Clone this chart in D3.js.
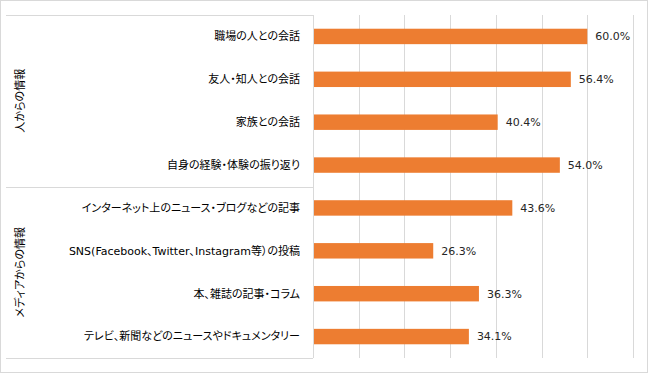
<!DOCTYPE html>
<html>
<head>
<meta charset="utf-8">
<script src="https://cdn.jsdelivr.net/npm/d3@7"></script>
<style>
  body { margin: 0; background: #fff; }
  svg { display: block; }
  text { font-family: "DejaVu Sans", "Noto Sans CJK JP", sans-serif; font-feature-settings: "palt"; }
</style>
</head>
<body>
<div id="chart"></div>
<script>
// data
var groups = ["人からの情報", "メディアからの情報"];
var categories = [
  "職場の人との会話",
  "友人・知人との会話",
  "家族との会話",
  "自身の経験・体験の振り返り",
  "インターネット上のニュース・ブログなどの記事",
  "SNS(Facebook、Twitter、Instagram等）の投稿",
  "本、雑誌の記事・コラム",
  "テレビ、新聞などのニュースやドキュメンタリー"
];
var groupOf = [0, 0, 0, 0, 1, 1, 1, 1];
var values = [60.0, 56.4, 40.4, 54.0, 43.6, 26.3, 36.3, 34.1];
var ticks = [0, 10, 20, 30, 40, 50, 60, 70];

var W = 648, H = 373;
var margin = {top: 15, right: 15, bottom: 15, left: 313};
var width = 633 - margin.left,
    height = 358 - margin.top;

var svg = d3.select("#chart").append("svg")
    .attr("width", W)
    .attr("height", H);

// outer border
svg.append("rect")
    .attr("x", 0.5).attr("y", 0.5)
    .attr("width", W - 1).attr("height", H - 1)
    .attr("fill", "#fff")
    .attr("stroke", "#d9d9d9");

var g = svg.append("g")
    .attr("transform", "translate(" + margin.left + "," + margin.top + ")");

var x = d3.scaleLinear().domain([0, 70]).range([0, width]);
var y = d3.scaleBand().domain(categories).range([0, height]).padding(0);
var barH = y.bandwidth() * 0.36;

// gridlines
g.selectAll(".grid")
    .data(ticks.slice(1))
    .enter().append("line")
    .attr("class", "grid")
    .attr("x1", function(d) { return Math.round(x(d)) + 0.5; })
    .attr("x2", function(d) { return Math.round(x(d)) + 0.5; })
    .attr("y1", 0)
    .attr("y2", height)
    .style("stroke", "#d9d9d9")
    .style("stroke-width", "1px");

// bars
g.selectAll(".bar")
    .data(values)
    .enter().append("rect")
    .attr("class", "bar")
    .attr("x", x(0))
    .attr("y", function(d, i) { return y(categories[i]) + (y.bandwidth() - barH) / 2; })
    .attr("width", function(d) { return x(d) - x(0); })
    .attr("height", barH)
    .attr("fill", "#ed7d31");

// value labels
g.selectAll(".val")
    .data(values)
    .enter().append("text")
    .attr("class", "val")
    .attr("x", function(d) { return x(d) + 8; })
    .attr("y", function(d, i) { return y(categories[i]) + y.bandwidth() / 2; })
    .attr("dy", "0.35em")
    .style("font-size", "11px")
    .style("fill", "#262626")
    .text(function(d) { return d.toFixed(1) + "%"; });

// category axis line
g.append("line")
    .attr("x1", 0.5).attr("x2", 0.5)
    .attr("y1", 0).attr("y2", height)
    .style("stroke", "#d9d9d9");

// category labels
g.selectAll(".cat")
    .data(categories)
    .enter().append("text")
    .attr("class", "cat")
    .attr("x", -13)
    .attr("y", function(d) { return y(d) + y.bandwidth() / 2; })
    .attr("dy", "0.35em")
    .attr("text-anchor", "end")
    .style("font-size", "11px")
    .style("fill", "#000")
    .text(function(d) { return d; });

// group separators and labels
var groupSpans = groups.map(function(name, gi) {
  var cats = categories.filter(function(c, i) { return groupOf[i] === gi; });
  return {
    name: name,
    y0: y(cats[0]),
    y1: y(cats[cats.length - 1]) + y.bandwidth()
  };
});

var seps = [0].concat(groupSpans.map(function(s) { return s.y1; }));
g.selectAll(".sep")
    .data(seps)
    .enter().append("line")
    .attr("class", "sep")
    .attr("x1", 6 - margin.left)
    .attr("x2", 0)
    .attr("y1", function(d) { return Math.round(d) + 0.5; })
    .attr("y2", function(d) { return Math.round(d) + 0.5; })
    .style("stroke", "#d9d9d9");

g.selectAll(".grp")
    .data(groupSpans)
    .enter().append("text")
    .attr("class", "grp")
    .attr("text-anchor", "middle")
    .attr("dy", "0.35em")
    .style("font-size", "11px")
    .style("fill", "#000")
    .attr("transform", function(d) {
      return "translate(" + (20 - margin.left) + "," + ((d.y0 + d.y1) / 2) + ")rotate(-90)";
    })
    .text(function(d) { return d.name; });
</script>
</body>
</html>
